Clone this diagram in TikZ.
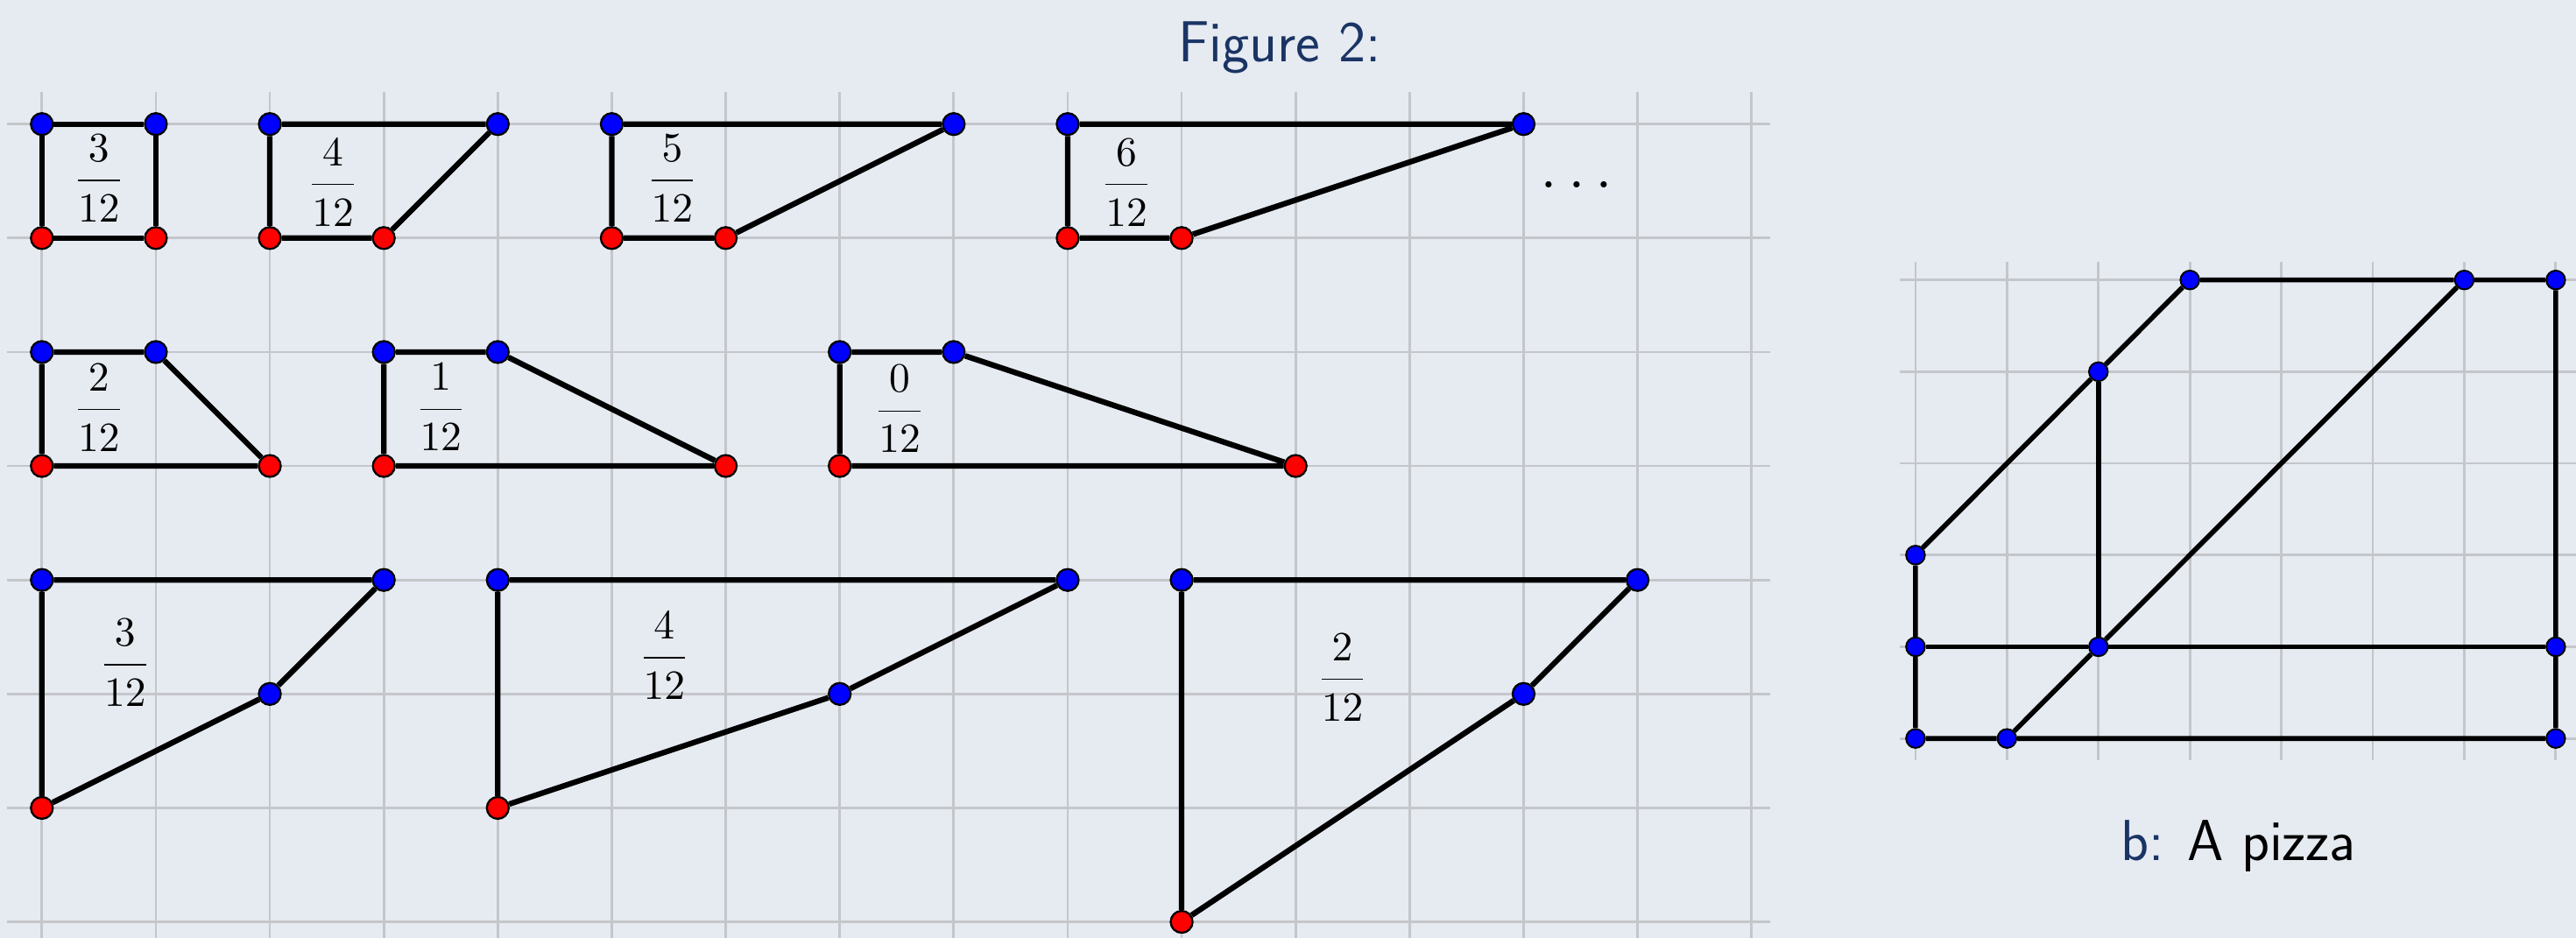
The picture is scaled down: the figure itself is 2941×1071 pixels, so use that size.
\documentclass[tikz,border=0pt]{standalone}
\DeclareFontShape{OT1}{cmr}{m}{n}{<->cmr10}{}
\pgfdeclarelayer{back}
\pgfdeclarelayer{edge}
\pgfsetlayers{back,edge,main}
\definecolor{bgc}{RGB}{230,235,242}
\definecolor{gridc}{RGB}{196,198,202}
\definecolor{navy}{RGB}{26,52,100}
\tikzset{
  bdot/.style={circle, draw=black, line width=0.65pt, fill=blue, inner sep=0pt, minimum size=0.25cm},
  rdot/.style={bdot, fill=red},
  pdot/.style={circle, draw=black, line width=0.55pt, fill=blue, inner sep=0pt, minimum size=0.215cm},
  edgeL/.style={line width=1.8pt, black},
  edgeR/.style={line width=1.6pt, black},
  gridline/.style={gridc, line width=0.8pt},
  fraclabel/.style={anchor=base, inner sep=0pt, font=\fontsize{13.5}{16}\selectfont},
  bigtext/.style={anchor=base, inner sep=0pt, font=\sffamily\fontsize{18.8}{22}\selectfont},
}
\begin{document}
\begin{tikzpicture}[x=0.01cm, y=-0.01cm]
\useasboundingbox (0,0) rectangle (2941,1071);
\begin{pgfonlayer}{back}
  \fill[bgc] (0,0) rectangle (2941,1071);
\end{pgfonlayer}

\node[bigtext, text=navy] (title) at (1461,70.7) {Figure 2:};
\node[bigtext] (caption) at (2555.5,982.7) {\textcolor{navy}{b:}\hspace{0.4em}A pizza};

% ---------------- left grid ----------------
\begin{scope}[shift={(47.8,141.7)}, x=1.3005cm, y=-1.3005cm]
  \begin{pgfonlayer}{back}
    \foreach \r in {0,...,7} \draw[gridline] (-0.3077,\r) -- (15.165,\r);
    \foreach \c in {0,...,15} \draw[gridline] (\c,-0.282) -- (\c,7.15);
  \end{pgfonlayer}

  % A
  \node[bdot] (a1) at (0,0) {}; \node[bdot] (a2) at (1,0) {};
  \node[rdot] (a3) at (1,1) {}; \node[rdot] (a4) at (0,1) {};
  \node[fraclabel] (fa) at (0.5,0.59) {$\displaystyle\frac{3}{12}$};
  % B
  \node[bdot] (b1) at (2,0) {}; \node[bdot] (b2) at (4,0) {};
  \node[rdot] (b3) at (3,1) {}; \node[rdot] (b4) at (2,1) {};
  \node[fraclabel] (fb) at (2.553,0.628) {$\displaystyle\frac{4}{12}$};
  % C
  \node[bdot] (c1) at (5,0) {}; \node[bdot] (c2) at (8,0) {};
  \node[rdot] (c3) at (6,1) {}; \node[rdot] (c4) at (5,1) {};
  \node[fraclabel] (fc) at (5.53,0.59) {$\displaystyle\frac{5}{12}$};
  % D
  \node[bdot] (d1) at (9,0) {}; \node[bdot] (d2) at (13,0) {};
  \node[rdot] (d3) at (10,1) {}; \node[rdot] (d4) at (9,1) {};
  \node[fraclabel] (fd) at (9.516,0.628) {$\displaystyle\frac{6}{12}$};
  \node[anchor=base, inner sep=0pt, font=\fontsize{21}{25}\selectfont] (more) at (13.466,0.559) {$\ldots$};
  % E
  \node[bdot] (e1) at (0,2) {}; \node[bdot] (e2) at (1,2) {};
  \node[rdot] (e3) at (2,3) {}; \node[rdot] (e4) at (0,3) {};
  \node[fraclabel] (fe) at (0.5,2.602) {$\displaystyle\frac{2}{12}$};
  % F
  \node[bdot] (f1) at (3,2) {}; \node[bdot] (f2) at (4,2) {};
  \node[rdot] (f3) at (6,3) {}; \node[rdot] (f4) at (3,3) {};
  \node[fraclabel] (ff) at (3.5,2.60) {$\displaystyle\frac{1}{12}$};
  % G
  \node[bdot] (g1) at (7,2) {}; \node[bdot] (g2) at (8,2) {};
  \node[rdot] (g3) at (11,3) {}; \node[rdot] (g4) at (7,3) {};
  \node[fraclabel] (fg) at (7.525,2.615) {$\displaystyle\frac{0}{12}$};
  % H
  \node[bdot] (h1) at (0,4) {}; \node[bdot] (h2) at (3,4) {};
  \node[bdot] (h3) at (2,5) {}; \node[rdot] (h4) at (0,6) {};
  \node[fraclabel] (fh) at (0.73,4.84) {$\displaystyle\frac{3}{12}$};
  % I
  \node[bdot] (i1) at (4,4) {}; \node[bdot] (i2) at (9,4) {};
  \node[bdot] (i3) at (7,5) {}; \node[rdot] (i4) at (4,6) {};
  \node[fraclabel] (fi) at (5.46,4.78) {$\displaystyle\frac{4}{12}$};
  % J
  \node[bdot] (j1) at (10,4) {}; \node[bdot] (j2) at (14,4) {};
  \node[bdot] (j3) at (13,5) {}; \node[rdot] (j4) at (10,7) {};
  \node[fraclabel] (fj) at (11.41,4.97) {$\displaystyle\frac{2}{12}$};

  \begin{pgfonlayer}{edge}
    \draw[edgeL] (a1) -- (a2) -- (a3) -- (a4) -- (a1);
    \draw[edgeL] (b1) -- (b2) -- (b3) -- (b4) -- (b1);
    \draw[edgeL] (c1) -- (c2) -- (c3) -- (c4) -- (c1);
    \draw[edgeL] (d1) -- (d2) -- (d3) -- (d4) -- (d1);
    \draw[edgeL] (e1) -- (e2) -- (e3) -- (e4) -- (e1);
    \draw[edgeL] (f1) -- (f2) -- (f3) -- (f4) -- (f1);
    \draw[edgeL] (g1) -- (g2) -- (g3) -- (g4) -- (g1);
    \draw[edgeL] (h1) -- (h2) -- (h3) -- (h4) -- (h1);
    \draw[edgeL] (i1) -- (i2) -- (i3) -- (i4) -- (i1);
    \draw[edgeL] (j1) -- (j2) -- (j3) -- (j4) -- (j1);
  \end{pgfonlayer}
\end{scope}

% ---------------- right grid (pizza) ----------------
\begin{scope}[shift={(2186.9,319.7)}, x=1.0436cm, y=-1.0464cm]
  \begin{pgfonlayer}{back}
    \foreach \r in {0,...,5} \draw[gridline] (-0.172,\r) -- (7.3,\r);
    \foreach \c in {0,...,7} \draw[gridline] (\c,-0.198) -- (\c,5.24);
  \end{pgfonlayer}
  \node[pdot] (p1) at (3,0) {};
  \node[pdot] (p2) at (6,0) {};
  \node[pdot] (p3) at (7,0) {};
  \node[pdot] (p4) at (2,1) {};
  \node[pdot] (p5) at (0,3) {};
  \node[pdot] (p6) at (0,4) {};
  \node[pdot] (p7) at (2,4) {};
  \node[pdot] (p8) at (7,4) {};
  \node[pdot] (p9) at (0,5) {};
  \node[pdot] (p10) at (1,5) {};
  \node[pdot] (p11) at (7,5) {};
  \begin{pgfonlayer}{edge}
    \draw[edgeR] (p5) -- (p4) -- (p1) -- (p2) -- (p3) -- (p8) -- (p11) -- (p10) -- (p9) -- (p6) -- (p5);
    \draw[edgeR] (p4) -- (p7);
    \draw[edgeR] (p6) -- (p7) -- (p8);
    \draw[edgeR] (p10) -- (p7) -- (p2);
  \end{pgfonlayer}
\end{scope}
\end{tikzpicture}
\end{document}
